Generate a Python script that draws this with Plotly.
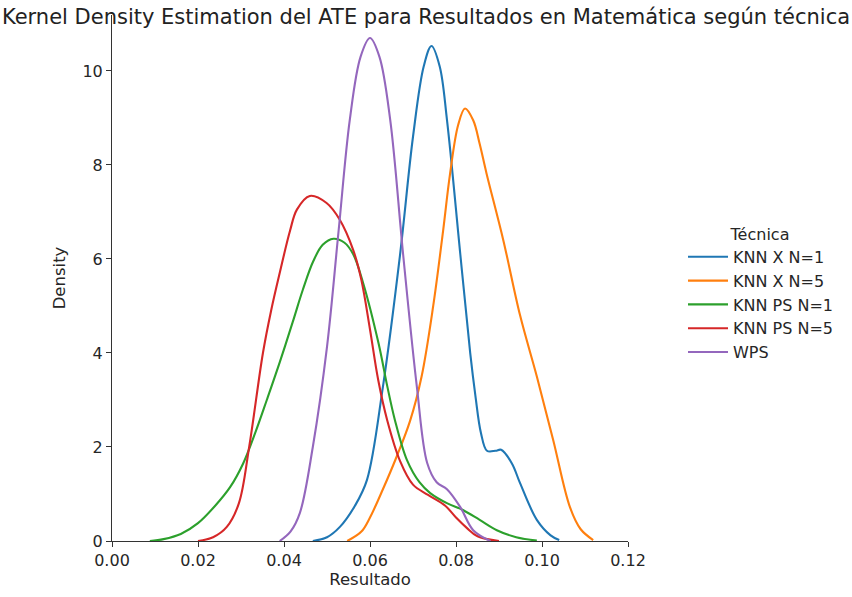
import plotly.graph_objects as go

# Series (x = Resultado, y = Density)
knn_x_n1_x = [0.0467, 0.050, 0.053, 0.0565, 0.0593, 0.063, 0.067, 0.070, 0.0725, 0.0743, 0.0762, 0.0779,
              0.081, 0.0833, 0.0845, 0.0858, 0.0872, 0.0892, 0.0905, 0.093, 0.0949, 0.0988, 0.102, 0.104]
knn_x_n1_y = [0.0, 0.08, 0.3, 0.75, 1.3, 3.28, 6.1, 8.6, 10.1, 10.53, 10.1, 8.96,
              6.1, 4.0, 3.1, 2.3, 1.92, 1.92, 1.94, 1.65, 1.23, 0.45, 0.12, 0.02]

knn_x_n5_x = [0.0547, 0.058, 0.060, 0.063, 0.066, 0.0693, 0.072, 0.0747, 0.077, 0.0786, 0.0805, 0.0821,
              0.084, 0.0855, 0.0871, 0.091, 0.0949, 0.0988, 0.1026, 0.1065, 0.109, 0.1119]
knn_x_n5_y = [0.0, 0.2, 0.5, 1.1, 1.75, 2.55, 3.5, 5.0, 6.6, 7.8, 8.85, 9.2,
              8.95, 8.45, 7.82, 6.4, 4.8, 3.5, 2.15, 0.72, 0.25, 0.02]

knn_ps_n1_x = [0.0088, 0.012, 0.016, 0.020, 0.024, 0.0275, 0.0305, 0.0333, 0.036, 0.039, 0.042, 0.0444,
               0.0468, 0.049, 0.0515, 0.054, 0.0561, 0.0584, 0.062, 0.064, 0.0658, 0.0686, 0.0715, 0.074,
               0.078, 0.0816, 0.0855, 0.0895, 0.094, 0.0988]
knn_ps_n1_y = [0.0, 0.04, 0.15, 0.38, 0.75, 1.15, 1.65, 2.3, 3.0, 3.8, 4.65, 5.35,
               5.95, 6.3, 6.43, 6.35, 6.1, 5.49, 4.2, 3.3, 2.57, 1.72, 1.25, 1.02,
               0.8, 0.66, 0.45, 0.23, 0.08, 0.01]

knn_ps_n5_x = [0.020, 0.0235, 0.0267, 0.0295, 0.0319, 0.0351, 0.037, 0.039, 0.0414, 0.043, 0.046, 0.0499,
               0.053, 0.0561, 0.058, 0.060, 0.0619, 0.064, 0.067, 0.070, 0.0735, 0.0775, 0.080, 0.0825,
               0.085, 0.090]
knn_ps_n5_y = [0.0, 0.08, 0.30, 0.8, 2.0, 4.0, 4.9, 5.7, 6.6, 7.05, 7.34, 7.19,
               6.83, 6.19, 5.55, 4.5, 3.43, 2.57, 1.7, 1.2, 0.98, 0.75, 0.5, 0.28,
               0.1, 0.0]

wps_x = [0.039, 0.0415, 0.0437, 0.0467, 0.050, 0.0527, 0.0553, 0.0578, 0.060, 0.0622, 0.0647, 0.0677,
         0.0709, 0.0733, 0.0755, 0.0779, 0.081, 0.084, 0.088]
wps_y = [0.0, 0.2, 0.6, 2.0, 4.13, 6.6, 8.96, 10.3, 10.7, 10.3, 8.96, 6.1,
         3.28, 1.66, 1.25, 1.1, 0.72, 0.23, 0.0]

series_names = ["KNN X N=1", "KNN X N=5", "KNN PS N=1", "KNN PS N=5", "WPS"]
series_x = [knn_x_n1_x, knn_x_n5_x, knn_ps_n1_x, knn_ps_n5_x, wps_x]
series_y = [knn_x_n1_y, knn_x_n5_y, knn_ps_n1_y, knn_ps_n5_y, wps_y]
colors = ["#1f77b4", "#ff7f0e", "#2ca02c", "#d62728", "#9467bd"]

x_ticks = [0.00, 0.02, 0.04, 0.06, 0.08, 0.10, 0.12]
x_tick_labels = ["0.00", "0.02", "0.04", "0.06", "0.08", "0.10", "0.12"]
y_ticks = [0, 2, 4, 6, 8, 10]

FONT = "DejaVu Sans"

fig = go.Figure()
for name, xs, ys, c in zip(series_names, series_x, series_y, colors):
    fig.add_trace(go.Scatter(x=xs, y=ys, mode="lines", name=name,
                             line=dict(color=c, width=2.1, shape="spline", smoothing=1.0)))

fig.update_layout(
    width=852, height=597,
    margin=dict(l=112, r=224, t=15, b=56),
    paper_bgcolor="white", plot_bgcolor="white",
    font=dict(family=FONT, size=16, color="#262626"),
    title=dict(text="Kernel Density Estimation del ATE para Resultados en Matemática según técnica",
               x=0.5, xref="container", xanchor="center",
               y=1 - 17 / 597, yref="container", yanchor="middle",
               font=dict(family=FONT, size=21, color="#222")),
    showlegend=True,
    legend=dict(title=dict(text="Técnica", side="top center", font=dict(size=16)),
                x=1.1066, xanchor="left", y=0.612, yanchor="top",
                font=dict(size=16), bgcolor="rgba(0,0,0,0)", itemwidth=40,
                tracegroupgap=0),
)
fig.update_xaxes(range=[0, 0.12], tickvals=x_ticks, ticktext=x_tick_labels,
                 showgrid=False, zeroline=False, showline=True, linecolor="#333", linewidth=1,
                 ticks="outside", ticklen=5, tickcolor="#333", tickfont=dict(size=16),
                 title=dict(text="Resultado", standoff=4, font=dict(size=16.5)))
fig.update_yaxes(range=[0, 11.19], tickvals=y_ticks,
                 showgrid=False, zeroline=False, showline=True, linecolor="#333", linewidth=1,
                 ticks="outside", ticklen=5, tickcolor="#333", tickfont=dict(size=16),
                 title=dict(text="Density", standoff=12, font=dict(size=16.5)))

fig.write_html("out.html")
